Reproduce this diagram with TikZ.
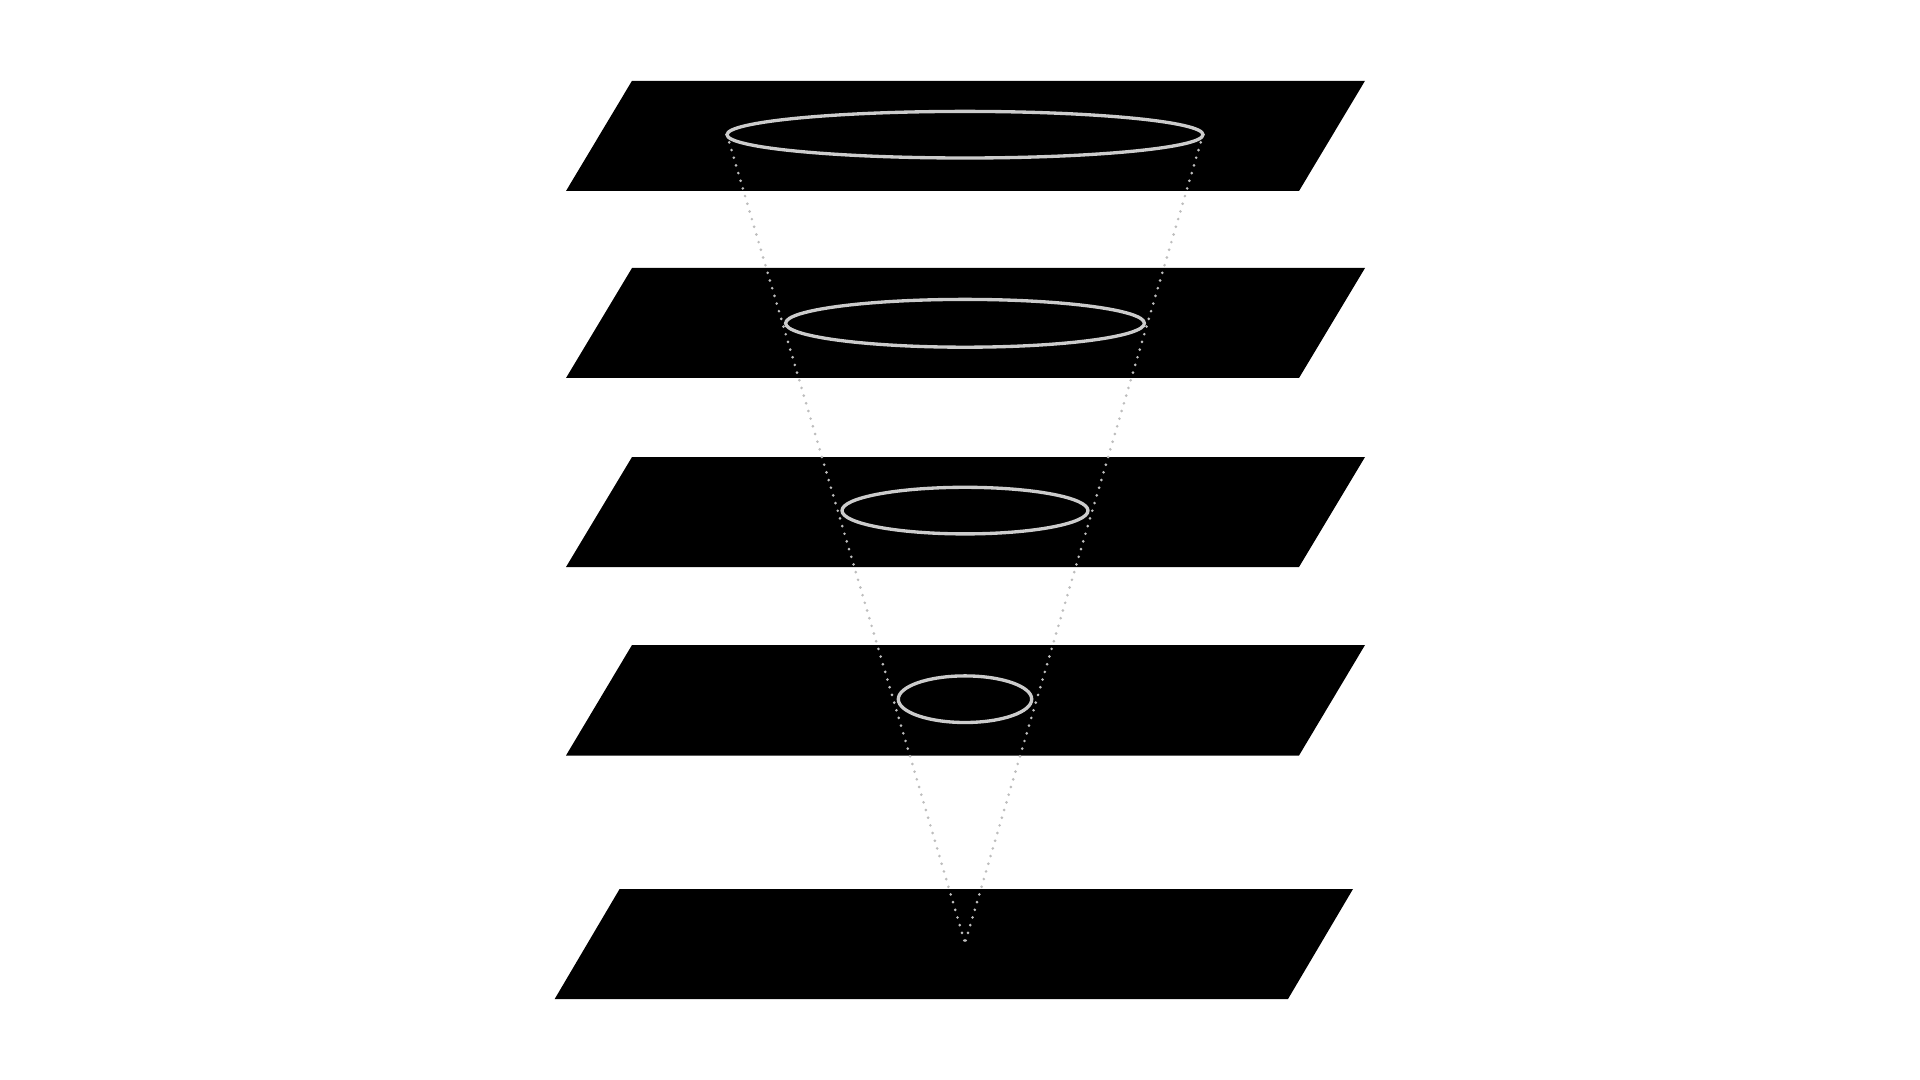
\documentclass[tikz,border=0pt]{standalone}
\usepackage{xcolor}
\usepackage{tikz}

\definecolor{ringgray}{RGB}{204,204,204}
\definecolor{conegray}{RGB}{189,189,189}

\tikzset{
  plane/.style={fill=black, draw=none},
  ring/.style={draw=ringgray, line width=2.5pt},
  conedots/.style={draw=conegray, line width=2.2pt, line cap=round, dash pattern=on 0pt off 6pt}
}

\begin{document}
\begin{tikzpicture}[x=0.75pt,y=0.75pt,yscale=-1,xscale=1]
    \useasboundingbox (0,0) rectangle (1920,1080);

    % stacked planes
    \fill [plane] (632,80.8) -- (1365,80.8) -- (1299,191) -- (566,191) -- cycle ;
    \fill [plane] (632,268) -- (1365,268) -- (1299,378) -- (566,378) -- cycle ;
    \fill [plane] (632,457) -- (1365,457) -- (1299,567) -- (566,567) -- cycle ;
    \fill [plane] (632,645) -- (1365,645) -- (1299,755.5) -- (566,755.5) -- cycle ;
    \fill [plane] (619.6,889) -- (1353,889) -- (1288,999) -- (554.7,999) -- cycle ;

    % cone
    \coordinate (apex) at (965,943);
    \coordinate (topL) at (727,134.7);
    \coordinate (topR) at (1203,134.7);
    \draw [conedots] (topL) -- (apex) ;
    \draw [conedots] (topR) -- (apex) ;

    % rings
    \draw [ring] (965,134.7) ellipse [x radius=238, y radius=23.3] ;
    \draw [ring] (965,323.3) ellipse [x radius=179.4, y radius=23.9] ;
    \draw [ring] (965,510.6) ellipse [x radius=123, y radius=23.3] ;
    \draw [ring] (965,699.2) ellipse [x radius=66.7, y radius=23.3] ;
\end{tikzpicture}
\end{document}
